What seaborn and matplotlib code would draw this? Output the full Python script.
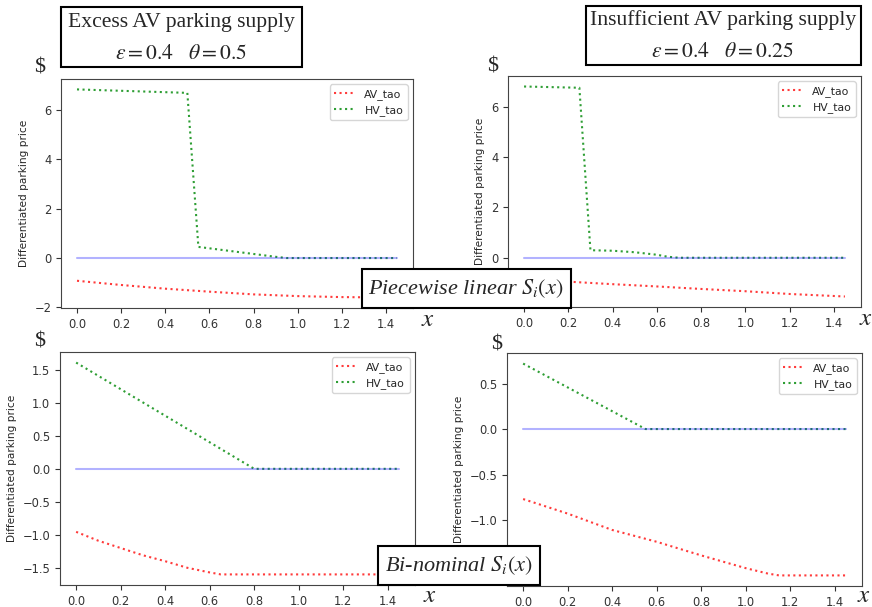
"""
Differentiated parking price under excess / insufficient AV parking supply
"""

import pandas as pd
import matplotlib
matplotlib.use("Agg")
import matplotlib.pyplot as plt
from matplotlib.patches import Rectangle
import seaborn as sns

# -----------------------------
# DATA
# -----------------------------
base_x = [0.0, 1.45]
base_y = [0.0, 0.0]

# top-left: excess supply, piecewise linear
av1_x = [0.0, 0.2, 0.4, 0.6, 0.8, 1.0, 1.2, 1.45]
av1_y = [-0.92, -1.09, -1.24, -1.36, -1.47, -1.54, -1.58, -1.60]
hv1_x = [0.0, 0.5, 0.55, 0.9, 0.95, 1.45]
hv1_y = [6.82, 6.68, 0.45, 0.05, 0.0, 0.0]

# top-right: insufficient supply, piecewise linear
av2_x = [0.0, 0.2, 0.4, 0.6, 0.8, 1.0, 1.2, 1.45]
av2_y = [-0.85, -0.95, -1.05, -1.14, -1.24, -1.33, -1.44, -1.54]
hv2_x = [0.0, 0.25, 0.3, 0.4, 0.5, 0.6, 0.65, 0.7, 1.45]
hv2_y = [6.81, 6.76, 0.30, 0.28, 0.22, 0.12, 0.04, 0.0, 0.0]

# bottom-left: excess supply, bi-nominal
av3_x = [0.0, 0.1, 0.2, 0.3, 0.4, 0.5, 0.6, 0.65, 1.45]
av3_y = [-0.955, -1.09, -1.20, -1.31, -1.40, -1.50, -1.57, -1.60, -1.60]
hv3_x = [0.0, 0.8, 1.45]
hv3_y = [1.61, 0.0, 0.0]

# bottom-right: insufficient supply, bi-nominal
av4_x = [0.0, 0.2, 0.4, 0.6, 0.8, 1.0, 1.1, 1.15, 1.45]
av4_y = [-0.77, -0.93, -1.11, -1.24, -1.39, -1.53, -1.59, -1.61, -1.61]
hv4_x = [0.0, 0.55, 1.45]
hv4_y = [0.72, 0.0, 0.0]

# -----------------------------
# STYLE
# -----------------------------
sns.set_style("ticks")
plt.rcParams["font.family"] = ["DejaVu Sans"]
plt.rcParams["mathtext.fontset"] = "stix"
plt.rcParams["axes.edgecolor"] = "#444444"
plt.rcParams["xtick.color"] = "#333333"
plt.rcParams["ytick.color"] = "#333333"

W, H = 872, 607
SERIF = "Liberation Serif"
RED = "#ff3b3b"
GREEN = "#2e9e34"

fig = plt.figure(figsize=(W / 100, H / 100), dpi=100)


def px_axes(l, t, r, b):
    return fig.add_axes([l / W, 1 - b / H, (r - l) / W, (b - t) / H])


def px_text(x, y, s, **kw):
    fig.text(x / W, 1 - y / H, s, ha="center", va="center", zorder=11, **kw)


def px_box(l, t, r, b):
    fig.patches.append(Rectangle((l / W, 1 - b / H), (r - l) / W, (b - t) / H,
                                 transform=fig.transFigure, facecolor="white",
                                 edgecolor="black", lw=1.5, zorder=10))


def draw_panel(ax, av_x, av_y, hv_x, hv_y):
    av = pd.DataFrame({"x": av_x, "y": av_y})
    hv = pd.DataFrame({"x": hv_x, "y": hv_y})
    sns.lineplot(data=av, x="x", y="y", ax=ax, color=RED, linestyle=":",
                 lw=1.5, label="AV_tao")
    sns.lineplot(data=hv, x="x", y="y", ax=ax, color=GREEN, linestyle=":",
                 lw=1.5, label="HV_tao")
    sns.lineplot(x=base_x, y=base_y, ax=ax, color="blue", alpha=0.3, lw=1.5)
    ax.legend(loc="upper right", fontsize=7.8)
    ax.set_xlabel("")
    ax.set_ylabel("Differentiated parking price", fontsize=7.6)
    ax.tick_params(labelsize=8.3)


ax1 = px_axes(61, 79, 413, 308)
draw_panel(ax1, av1_x, av1_y, hv1_x, hv1_y)
ax2 = px_axes(508, 76, 861, 307)
draw_panel(ax2, av2_x, av2_y, hv2_x, hv2_y)
ax3 = px_axes(60, 352, 415, 585)
draw_panel(ax3, av3_x, av3_y, hv3_x, hv3_y)
ax4 = px_axes(507, 353, 862, 586)
draw_panel(ax4, av4_x, av4_y, hv4_x, hv4_y)

# the -1.5 label on the bottom-right panel sits under the Bi-nominal box
fig.canvas.draw()
for lab in ax4.get_yticklabels():
    if lab.get_text().replace("\u2212", "-") == "-1.5":
        lab.set_visible(False)

# -----------------------------
# ANNOTATIONS
# -----------------------------
px_box(61, 7, 302, 67)
px_text(181, 22, "Excess AV parking supply", family=SERIF, fontsize=15.6)
px_text(181, 53, r"$\varepsilon=0.4\quad\theta=0.5$", fontsize=15.6)

px_box(586, 6, 861, 65)
px_text(723, 20, "Insufficient AV parking supply", family=SERIF, fontsize=15.6)
px_text(723, 51, r"$\varepsilon=0.4\quad\theta=0.25$", fontsize=15.6)

px_box(362, 269, 571, 308)
px_text(466, 289, r"Piecewise linear $S_i\left(x\right)$", family=SERIF,
        style="italic", fontsize=16)

px_box(378, 546, 540, 585)
px_text(459, 566, r"Bi-nominal $S_i\left(x\right)$", family=SERIF,
        style="italic", fontsize=16)

for x, y in [(40, 68), (493, 67), (40, 342), (497, 345)]:
    px_text(x, y, "$", family=SERIF, fontsize=16)

for x, y in [(428, 319), (866, 318), (430, 595), (864, 595)]:
    px_text(x, y, r"$x$", fontsize=18)

plt.savefig("out.png", dpi=100)
plt.close()
